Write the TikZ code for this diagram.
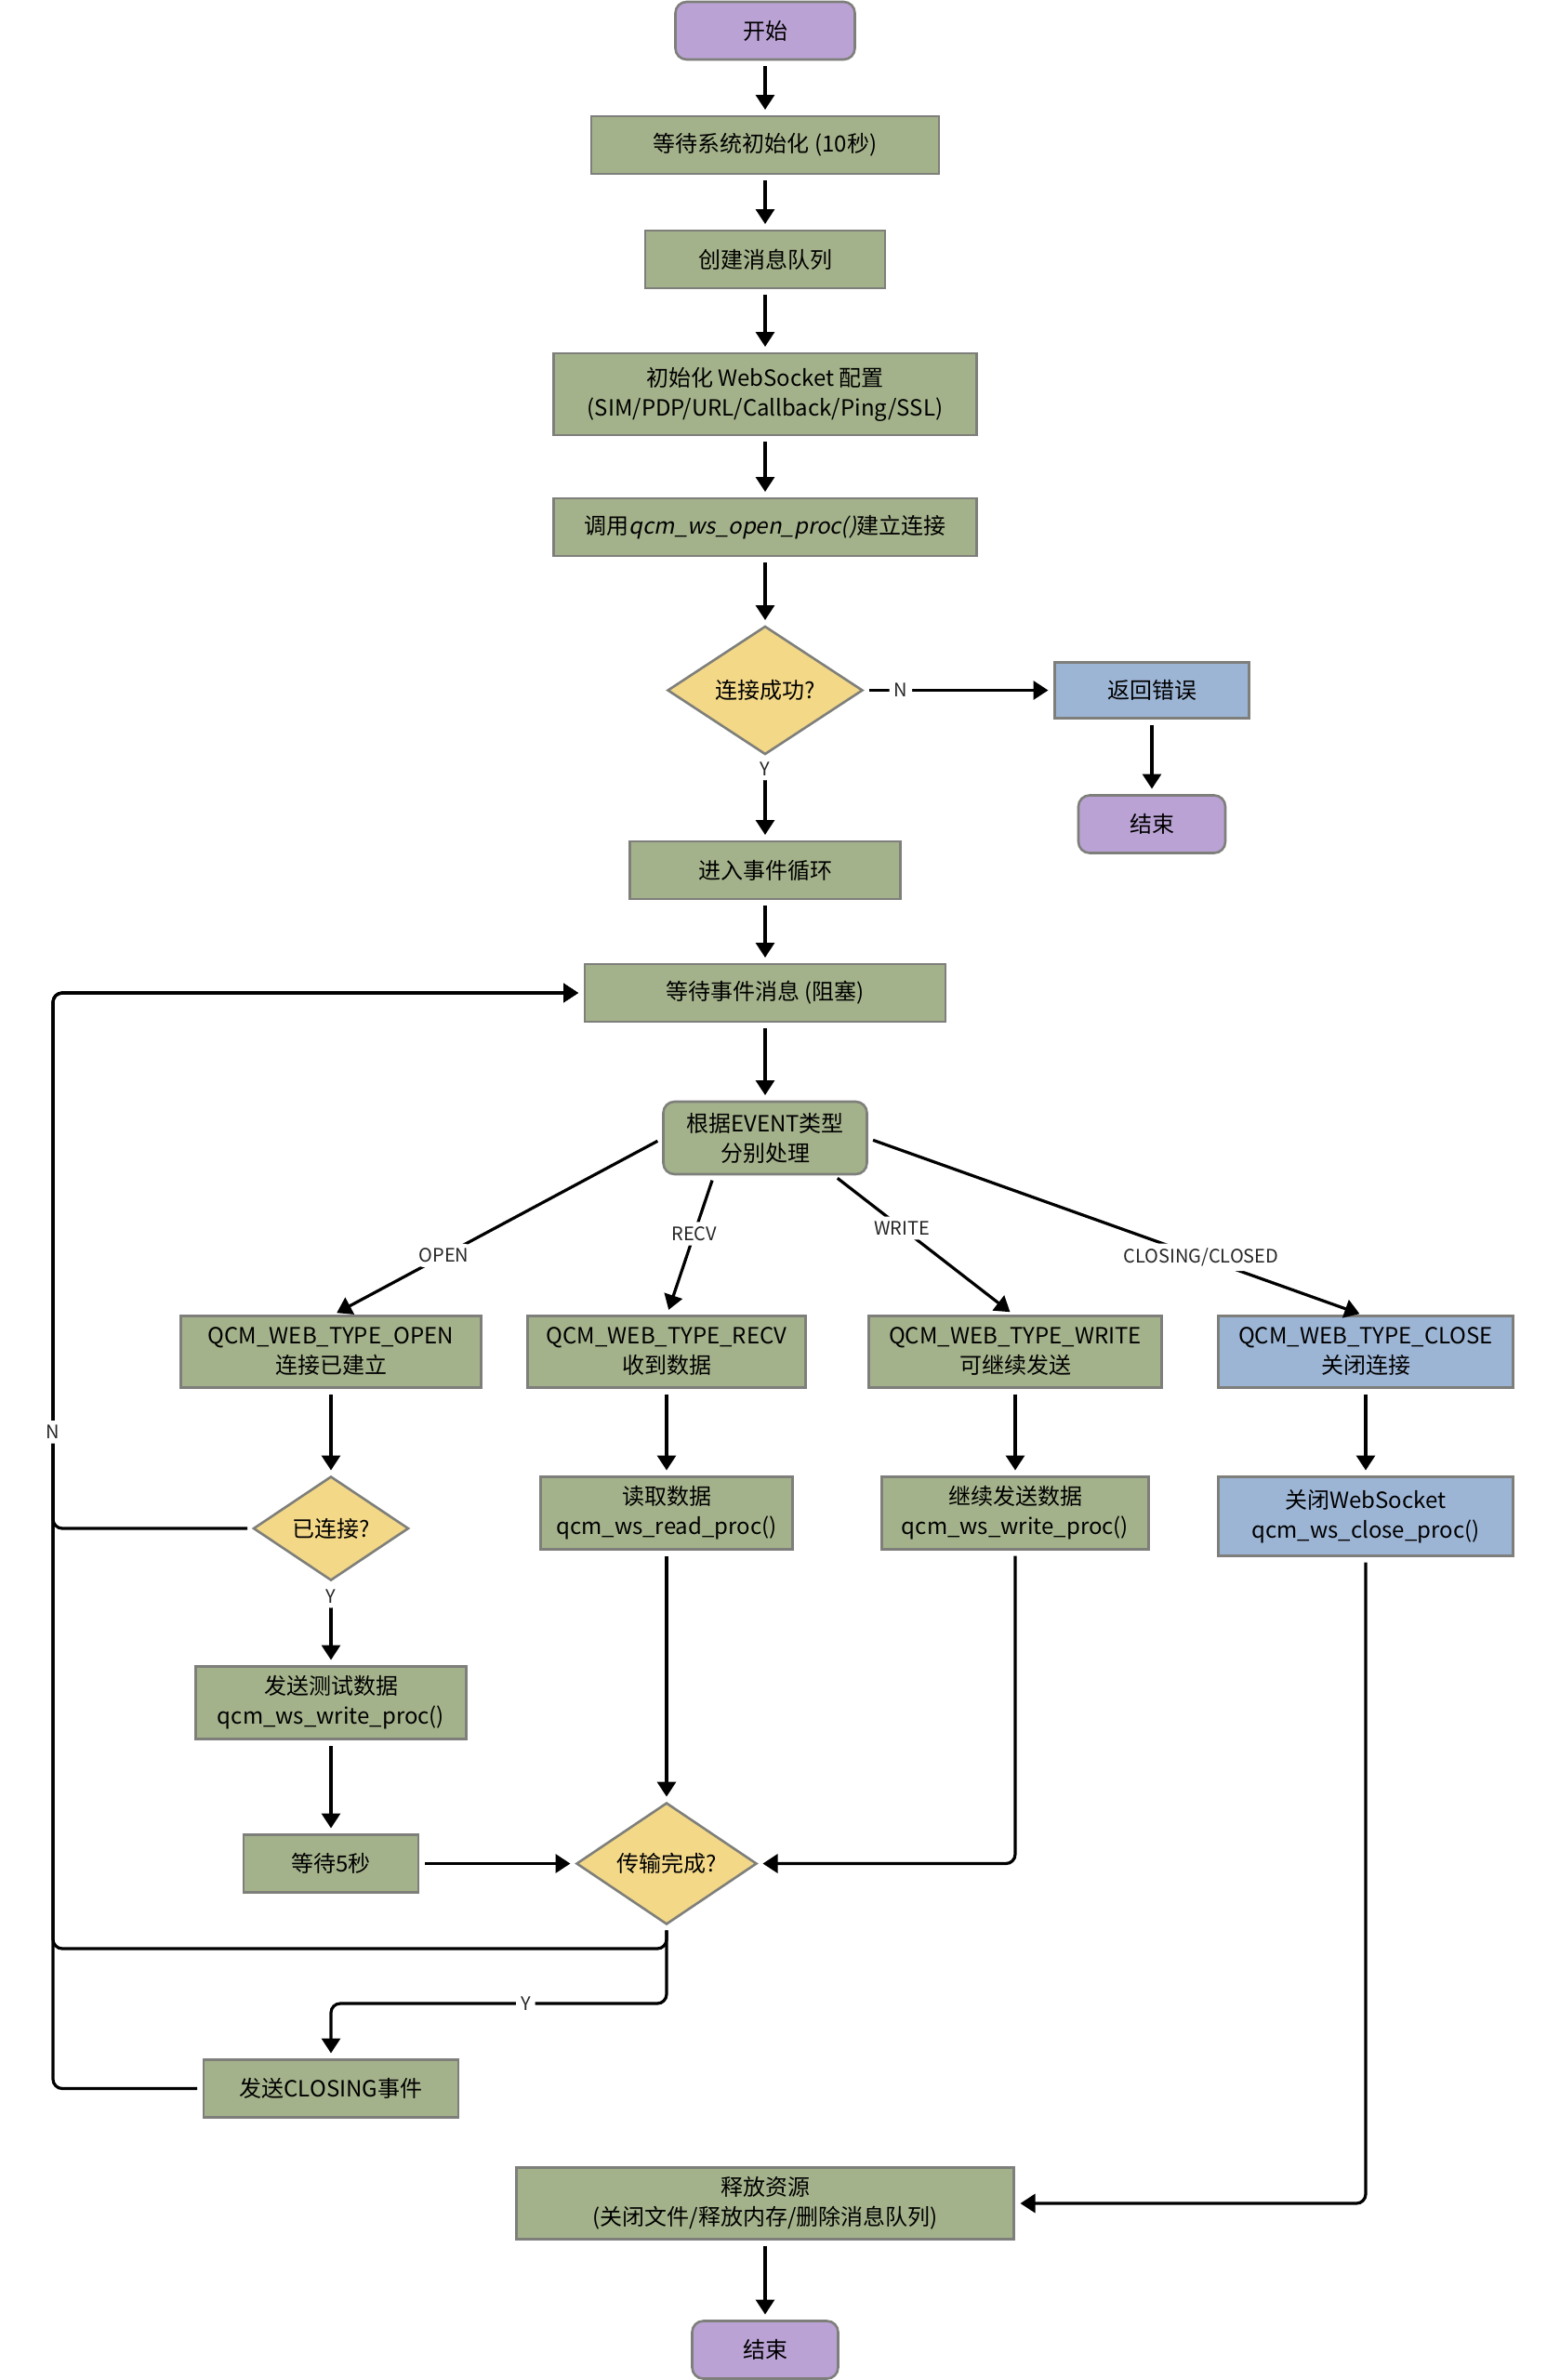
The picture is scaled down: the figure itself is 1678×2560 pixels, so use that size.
\documentclass[tikz,border=0pt]{standalone}
\usepackage{fontspec}
\setmainfont{Noto Sans CJK SC}
\newfontfamily\miring[FakeSlant=0.2]{Noto Sans CJK SC}
\usepackage{xcolor}
\usepackage{tikz}
\usetikzlibrary{arrows.meta, positioning, calc, shapes.geometric}

\definecolor{hijau}{HTML}{A4B28B}
\definecolor{ungu}{HTML}{BAA3D4}
\definecolor{biru}{HTML}{9DB5D5}
\definecolor{kuning}{HTML}{F3D888}
\definecolor{tepi}{HTML}{7E7F7B}
\newcommand{\teks}{\fontsize{24}{32}\selectfont}
\newcommand{\kecil}{\fontsize{20}{22}\selectfont}

\begin{document}
\begin{tikzpicture}[x=1pt, y=-1pt,
    proses/.style={draw=tepi, line width=2.6pt, fill=hijau, align=center, font=\teks,
                   minimum height=62pt, inner sep=2pt, outer sep=0pt},
    terminal/.style={proses, fill=ungu, rounded corners=12pt},
    keputusan/.style={diamond, draw=tepi, line width=2.6pt, fill=kuning, font=\teks,
                      inner sep=0pt, outer sep=0pt},
    panah/.style={-{Triangle[length=16pt, width=20pt]}, line width=3.2pt,
                  shorten <=7pt, shorten >=7pt, rounded corners=10pt},
    ket/.style={fill=white, font=\kecil, text=black!85, inner sep=5pt}
  ]
    \useasboundingbox (0,0) rectangle (1678,2560);

    % jalur utama
    \node[terminal, minimum width=193pt] (start) at (823,33) {开始};
    \node[proses, minimum width=374pt, below=61pt of start] (init) {等待系统初始化 (10秒)};
    \node[proses, minimum width=258pt, below=61pt of init] (queue) {创建消息队列};
    \node[proses, minimum width=455pt, minimum height=88pt, below=70pt of queue] (cfg)
        {初始化 WebSocket 配置\\(SIM/PDP/URL/Callback/Ping/SSL)};
    \node[proses, minimum width=455pt, below=68pt of cfg] (open)
        {调用{\miring qcm\_ws\_open\_proc()}建立连接};
    \node[keputusan, minimum width=209pt, minimum height=137pt, below=76pt of open] (ok) {连接成功?};
    \node[proses, fill=biru, minimum width=209pt, minimum height=60pt, right=207pt of ok] (err) {返回错误};
    \node[terminal, minimum width=158pt, below=83pt of err] (end1) {结束};
    \node[proses, minimum width=291pt, below=94pt of ok] (loop) {进入事件循环};
    \node[proses, minimum width=388pt, below=70pt of loop] (wait) {等待事件消息 (阻塞)};
    \node[proses, rounded corners=12pt, minimum width=219pt, minimum height=78pt, below=86pt of wait] (disp)
        {根据EVENT类型\\分别处理};

    % jenis event
    \node[proses, minimum width=323pt, minimum height=77pt] (topen) at (356,1454) {QCM\_WEB\_TYPE\_OPEN\\连接已建立};
    \node[proses, minimum width=299pt, minimum height=77pt] (trecv) at (717,1454) {QCM\_WEB\_TYPE\_RECV\\收到数据};
    \node[proses, minimum width=315pt, minimum height=77pt] (twrite) at (1092,1454) {QCM\_WEB\_TYPE\_WRITE\\可继续发送};
    \node[proses, fill=biru, minimum width=317pt, minimum height=77pt] (tclose) at (1469,1454) {QCM\_WEB\_TYPE\_CLOSE\\关闭连接};

    \node[keputusan, minimum width=166pt, minimum height=111pt, below=96pt of topen] (conn) {已连接?};
    \node[proses, minimum width=271pt, minimum height=78pt, below=96pt of trecv] (read) {读取数据\\qcm\_ws\_read\_proc()};
    \node[proses, minimum width=287pt, minimum height=78pt, below=96pt of twrite] (wcont) {继续发送数据\\qcm\_ws\_write\_proc()};
    \node[proses, fill=biru, minimum width=317pt, minimum height=85pt, below=96pt of tclose] (wsclose)
        {关闭WebSocket\\qcm\_ws\_close\_proc()};
    \node[proses, minimum width=291pt, minimum height=78pt, below=93pt of conn] (send) {发送测试数据\\qcm\_ws\_write\_proc()};
    \node[proses, minimum width=188pt, below=103pt of send] (wait5) {等待5秒};
    \node[keputusan, minimum width=193pt, minimum height=127pt] (done) at (read |- wait5) {传输完成?};
    \node[proses, minimum width=274pt, below=180pt of wait5] (closing) {发送CLOSING事件};
    \node[proses, minimum width=535pt, minimum height=77pt] (release) at (823,2370)
        {释放资源\\(关闭文件/释放内存/删除消息队列)};
    \node[terminal, minimum width=157pt, below=88pt of release] (end2) {结束};

    \coordinate (kiri) at (57,0);
    \coordinate (kiribawah) at (57,2096);
    \coordinate (ybelok) at (356,2155);

    \draw[panah] (start) -- (init);
    \draw[panah] (init) -- (queue);
    \draw[panah] (queue) -- (cfg);
    \draw[panah] (cfg) -- (open);
    \draw[panah] (open) -- (ok);
    \draw[panah] (ok) -- node[ket, pos=0.2] {N} (err);
    \draw[panah] (err) -- (end1);
    \draw[panah] (ok) -- node[ket, pos=0.17] {Y} (loop);
    \draw[panah] (loop) -- (wait);
    \draw[panah] (wait) -- (disp);

    \draw[panah] (disp.west) -- node[ket, pos=0.66] {OPEN} (topen.north);
    \draw[panah] ($(disp.south west)!0.25!(disp.south east)$) -- node[ket, pos=0.42] {RECV} (trecv.north);
    \draw[panah] ($(disp.south west)!0.83!(disp.south east)$) -- node[ket, pos=0.38] {WRITE} (twrite.north);
    \draw[panah] (disp.east) -- node[ket, pos=0.67] {CLOSING/CLOSED} (tclose.north);

    \draw[panah] (topen) -- (conn);
    \draw[panah] (trecv) -- (read);
    \draw[panah] (twrite) -- (wcont);
    \draw[panah] (tclose) -- (wsclose);
    \draw[panah] (conn) -- node[ket, pos=0.19] {Y} (send);
    \draw[panah] (send) -- (wait5);
    \draw[panah] (wait5) -- (done);
    \draw[panah] (read) -- (done);
    \draw[panah] (wcont.south) |- (done.east);
    \draw[panah] (wsclose.south) |- (release.east);
    \draw[panah] (release) -- (end2);

    % kembali ke loop
    \draw[panah] (done.south) |- (kiribawah) -- (kiri |- wait.west) -- (wait.west);
    \draw[panah] (closing.west) -| (kiri |- wait.west) -- (wait.west);
    \draw[panah] (done.south) |- node[ket, pos=0.71] {Y} (ybelok) -- (closing.north);
    \draw[panah] (conn.west) -| node[ket, pos=0.59] {N} (kiri |- wait.west) -- (wait.west);
\end{tikzpicture}
\end{document}
